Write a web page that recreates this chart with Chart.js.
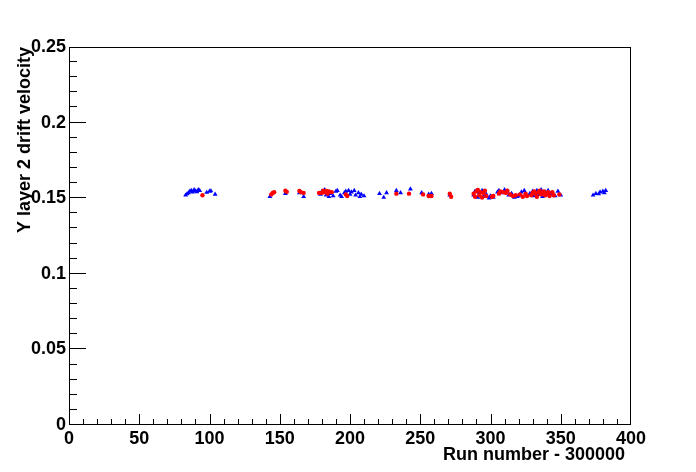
<!DOCTYPE html>
<html lang="en">
<head>
    <meta charset="UTF-8">
    <title>Y layer 2 drift velocity</title>
    <script src="https://cdn.jsdelivr.net/npm/chart.js"></script>
    <style>
        body { margin: 0; background: #fff; }
        #wrap { width: 696px; height: 472px; }
    </style>
</head>
<body>
    <div id="wrap"><canvas id="chart" width="696" height="472"></canvas></div>

    <script>
        // Run number - 300000 and drift velocity
        const blueRuns = [83, 84, 85, 86, 87, 88, 89, 90, 91, 92, 93, 98, 100, 101, 104,
            143, 154, 164, 167,
            179, 180, 182, 183, 184, 185, 186, 188, 190, 191, 193, 194, 196, 197, 199, 200, 201, 203, 204, 206, 207, 208, 210,
            221, 224, 226, 233, 236, 243, 251, 256, 258, 271,
            288, 289, 291, 292, 294, 295, 297, 299, 300, 302,
            305, 306, 308, 310, 312, 313, 315, 317, 319, 320, 322, 324,
            328, 330, 331, 333, 334, 336, 337, 339, 341, 342, 343, 346, 348, 350,
            373, 375, 377, 378, 380, 381, 382];
        const blueVelocity = [0.1520, 0.1528, 0.1535, 0.1545, 0.1550, 0.1540, 0.1555, 0.1548, 0.1542, 0.1556, 0.1550, 0.1538, 0.1545, 0.1548, 0.1525,
            0.1510, 0.1530, 0.1535, 0.1510,
            0.1525, 0.1545, 0.1555, 0.1520, 0.1540, 0.1510, 0.1530, 0.1515, 0.1545, 0.1550, 0.1520, 0.1510, 0.1535, 0.1545, 0.1550, 0.1525, 0.1540, 0.1550, 0.1520, 0.1535, 0.1510, 0.1525, 0.1515,
            0.1530, 0.1505, 0.1535, 0.1550, 0.1535, 0.1560, 0.1535, 0.1525, 0.1530, 0.1520,
            0.1520, 0.1545, 0.1505, 0.1535, 0.1550, 0.1510, 0.1525, 0.1500, 0.1515, 0.1505,
            0.1540, 0.1550, 0.1535, 0.1555, 0.1545, 0.1520, 0.1530, 0.1505, 0.1510, 0.1515, 0.1540, 0.1550,
            0.1530, 0.1545, 0.1515, 0.1550, 0.1525, 0.1555, 0.1510, 0.1540, 0.1550, 0.1520, 0.1530, 0.1515, 0.1545, 0.1520,
            0.1520, 0.1530, 0.1528, 0.1540, 0.1545, 0.1535, 0.1550];

        const redRuns = [95,
            144, 145, 146, 154, 155, 164, 165, 167, 178,
            180, 181, 182, 183, 184, 185, 187, 197, 198,
            233, 242, 252, 256, 258, 271, 272,
            288, 289, 290, 291, 292, 293, 294, 295, 296, 297, 301, 302,
            306, 307, 309, 311, 312, 314, 316, 318, 321, 323, 325, 326,
            329, 330, 331, 332, 333, 334, 335, 336, 337, 338, 339, 340, 341, 342, 344, 345, 349];
        const redVelocity = [0.1520,
            0.1525, 0.1535, 0.1540, 0.1550, 0.1542, 0.1548, 0.1540, 0.1535, 0.1535,
            0.1535, 0.1550, 0.1540, 0.1548, 0.1530, 0.1545, 0.1540, 0.1525, 0.1515,
            0.1530, 0.1530, 0.1525, 0.1515, 0.1515, 0.1530, 0.1510,
            0.1530, 0.1510, 0.1545, 0.1555, 0.1520, 0.1540, 0.1505, 0.1535, 0.1550, 0.1515, 0.1510, 0.1515,
            0.1530, 0.1545, 0.1540, 0.1535, 0.1550, 0.1525, 0.1515, 0.1520, 0.1525, 0.1510, 0.1530, 0.1515,
            0.1520, 0.1535, 0.1545, 0.1530, 0.1510, 0.1540, 0.1550, 0.1525, 0.1535, 0.1545, 0.1520, 0.1530, 0.1540, 0.1515, 0.1540, 0.1520, 0.1525];

        const xTicks = [0, 50, 100, 150, 200, 250, 300, 350, 400];
        const yTicks = [0, 0.05, 0.1, 0.15, 0.2, 0.25];
        const yTickLabels = ['0', '0.05', '0.1', '0.15', '0.2', '0.25'];

        const toPoints = (xs, ys) => xs.map((x, i) => ({ x: x, y: ys[i] }));
        const axisFont = { family: "'Liberation Sans', Arial, sans-serif", size: 18, weight: 'bold' };

        // ROOT-like frame with ticks pointing inwards, plus the x title
        const frameTicks = {
            id: 'frameTicks',
            afterDraw(chart) {
                const { ctx, chartArea: a, scales } = chart;
                ctx.save();
                ctx.strokeStyle = '#000';
                ctx.lineWidth = 1;
                ctx.strokeRect(a.left + 0.5, a.top + 0.5, a.right - a.left - 1, a.bottom - a.top - 1);
                ctx.beginPath();
                // end ticks sit on the frame, so skip them
                for (let v = 10; v < 400; v += 10) {
                    const px = Math.round(scales.x.getPixelForValue(v)) + 0.5;
                    const len = v % 50 === 0 ? 11 : 6;
                    ctx.moveTo(px, a.bottom);
                    ctx.lineTo(px, a.bottom - len);
                }
                for (let i = 1; i < 25; i++) {
                    const py = Math.round(scales.y.getPixelForValue(i / 100)) - 0.5;
                    const len = i % 5 === 0 ? 17 : 8;
                    ctx.moveTo(a.left, py);
                    ctx.lineTo(a.left + len, py);
                }
                ctx.stroke();

                ctx.fillStyle = '#000';
                ctx.font = "bold 18px 'Liberation Sans', Arial, sans-serif";
                ctx.textAlign = 'right';
                ctx.textBaseline = 'middle';
                ctx.fillText('Run number - 300000', a.right - 6, 455);
                ctx.restore();
            }
        };

        new Chart(document.getElementById('chart'), {
            type: 'scatter',
            data: {
                datasets: [
                    {
                        label: 'red',
                        data: toPoints(redRuns, redVelocity),
                        backgroundColor: '#ff0000',
                        borderColor: '#ff0000',
                        pointStyle: 'circle',
                        pointRadius: 2.2,
                        borderWidth: 0
                    },
                    {
                        label: 'blue',
                        data: toPoints(blueRuns, blueVelocity),
                        backgroundColor: '#0000ff',
                        borderColor: '#0000ff',
                        pointStyle: 'triangle',
                        pointRadius: 2.8,
                        borderWidth: 0
                    }
                ]
            },
            options: {
                responsive: false,
                animation: false,
                devicePixelRatio: 1,
                layout: { padding: { top: 47, right: 65, left: 0, bottom: 0 } },
                plugins: {
                    legend: { display: false },
                    tooltip: { enabled: false }
                },
                scales: {
                    x: {
                        type: 'linear',
                        min: 0,
                        max: 400,
                        afterFit: (s) => { s.height = 47; },
                        afterBuildTicks: (s) => { s.ticks = xTicks.map(v => ({ value: v })); },
                        grid: { display: false, drawTicks: false },
                        border: { display: false },
                        ticks: {
                            autoSkip: false,
                            maxRotation: 0,
                            padding: 3,
                            color: '#000',
                            font: axisFont,
                            callback: (v) => String(v)
                        }
                    },
                    y: {
                        type: 'linear',
                        min: 0,
                        max: 0.25,
                        afterFit: (s) => { s.width = 69; },
                        afterBuildTicks: (s) => { s.ticks = yTicks.map(v => ({ value: v })); },
                        grid: { display: false, drawTicks: false },
                        border: { display: false },
                        ticks: {
                            autoSkip: false,
                            padding: 3,
                            color: '#000',
                            font: axisFont,
                            callback: (v) => yTickLabels[yTicks.findIndex(t => Math.abs(t - v) < 1e-9)]
                        },
                        title: {
                            display: true,
                            text: 'Y layer 2 drift velocity',
                            align: 'end',
                            color: '#000',
                            font: axisFont,
                            padding: { top: 14, bottom: 0 }
                        }
                    }
                }
            },
            plugins: [frameTicks]
        });
    </script>
</body>
</html>
